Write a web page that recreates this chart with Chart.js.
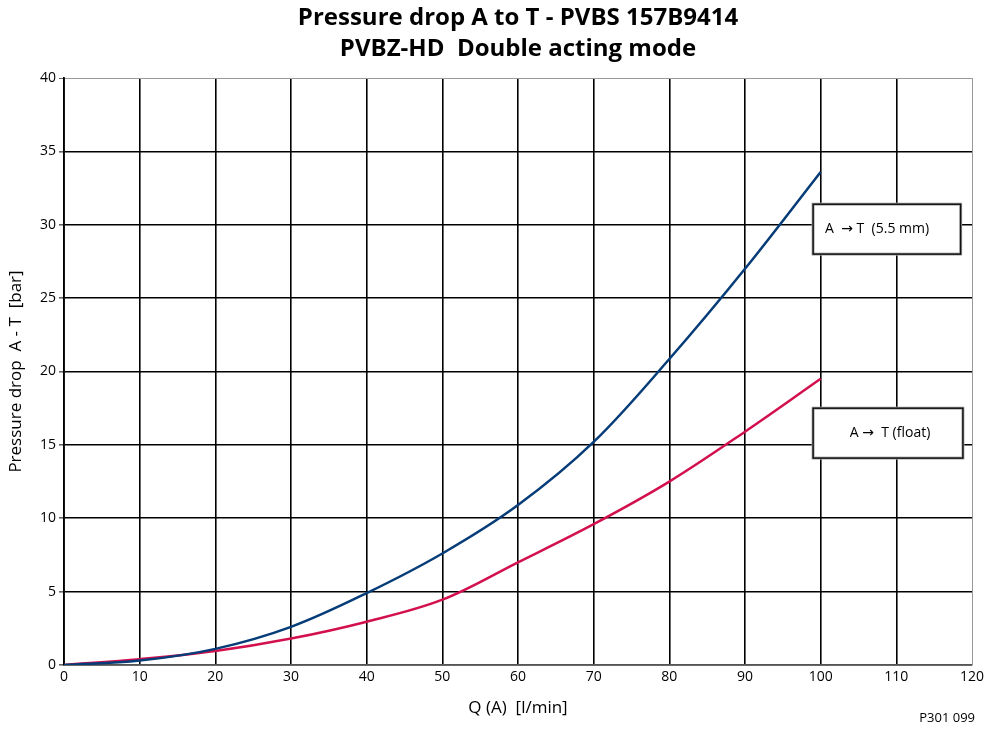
<!DOCTYPE html>
<html>
<head>
  <title>Pressure drop A to T</title>
  <script src="https://cdn.jsdelivr.net/npm/chart.js"></script>
  <style>
    html, body { margin: 0; padding: 0; background: #fff; }
    .chart-container { width: 990px; height: 732px; }
  </style>
</head>
<body>
  <div class="chart-container">
    <canvas id="chartPressure"></canvas>
  </div>
  <script>
    const titleLines = ['Pressure drop A to T - PVBS 157B9414', 'PVBZ-HD  Double acting mode'];
    const flow = [0, 10, 20, 30, 40, 50, 60, 70, 80, 90, 100];
    const dropOrifice = [0, 0.3, 1.1, 2.6, 4.9, 7.6, 10.9, 15.2, 20.85, 27.0, 33.6];
    const flowFloat = [0, 10, 20, 30, 40, 50, 60, 70, 80, 90, 100];
    const dropFloat = [0, 0.4, 0.95, 1.8, 2.95, 4.45, 7.0, 9.6, 12.5, 15.9, 19.5];
    const seriesLabels = ['A  \u2192 T  (5.5 mm)', 'A \u2192  T (float)'];
    const figureCode = 'P301 099';

    const FONT = '"Open Sans", "Noto Sans", sans-serif';
    const BOX_FONT = '"Open Sans", "DejaVu Sans", sans-serif';

    const toPoints = (xs, ys) => xs.map((x, i) => ({ x: x, y: ys[i] }));

    const overlay = {
      id: 'overlay',
      afterDraw(chart) {
        const ctx = chart.ctx;
        const area = chart.chartArea;
        const sx = chart.scales.x, sy = chart.scales.y;
        ctx.save();
        // title
        ctx.fillStyle = '#000';
        ctx.font = 'bold 24px ' + FONT;
        ctx.textAlign = 'center';
        ctx.textBaseline = 'middle';
        const cx = (area.left + area.right) / 2;
        ctx.fillText(titleLines[0], cx, 18);
        ctx.fillText(titleLines[1], cx, 49);

        // label boxes
        const boxes = [
          { text: seriesLabels[0], x0: 99, x1: 118.5, yTop: 31.4, yBot: 28.0, align: 'left' },
          { text: seriesLabels[1], x0: 99, x1: 118.8, yTop: 17.5, yBot: 14.1, align: 'center' }
        ];
        boxes.forEach(b => {
          const l = sx.getPixelForValue(b.x0), r = sx.getPixelForValue(b.x1);
          const t = sy.getPixelForValue(b.yTop), bo = sy.getPixelForValue(b.yBot);
          ctx.fillStyle = '#fff';
          ctx.fillRect(l, t, r - l, bo - t);
          ctx.strokeStyle = '#aaa';
          ctx.lineWidth = 3;
          ctx.strokeRect(l, t, r - l, bo - t);
          ctx.strokeStyle = '#111';
          ctx.lineWidth = 1.5;
          ctx.strokeRect(l, t, r - l, bo - t);
          ctx.fillStyle = '#000';
          ctx.font = '14px ' + BOX_FONT;
          ctx.textBaseline = 'middle';
          if (b.align === 'left') {
            ctx.textAlign = 'left';
            ctx.fillText(b.text, l + 12, (t + bo) / 2);
          } else {
            ctx.textAlign = 'center';
            ctx.fillText(b.text, (l + r) / 2 + 2, (t + bo) / 2);
          }
        });

        // figure code
        ctx.font = '13px ' + FONT;
        ctx.textAlign = 'right';
        ctx.fillText(figureCode, area.right + 3, 718);
        ctx.restore();
      }
    };

    const gridColor = ctx => ctx.index === ctx.chart.scales[ctx.scale.id].ticks.length - 1 ? '#999' : '#000';
    const gridWidth = ctx => ctx.index === ctx.chart.scales[ctx.scale.id].ticks.length - 1 ? 1 : 1.6;

    new Chart(document.getElementById('chartPressure').getContext('2d'), {
      type: 'line',
      data: {
        datasets: [{
          label: seriesLabels[0],
          data: toPoints(flow, dropOrifice),
          borderColor: '#063c78',
          borderWidth: 2.5,
          pointRadius: 0,
          tension: 0.35,
          fill: false
        }, {
          label: seriesLabels[1],
          data: toPoints(flowFloat, dropFloat),
          borderColor: '#d3104e',
          borderWidth: 2.5,
          pointRadius: 0,
          tension: 0.35,
          fill: false
        }]
      },
      options: {
        responsive: true,
        maintainAspectRatio: false,
        animation: false,
        layout: { padding: { top: 78, right: 18, left: 0, bottom: 0 } },
        plugins: {
          legend: { display: false },
          title: { display: false },
          tooltip: { enabled: false }
        },
        scales: {
          x: {
            type: 'linear',
            min: 0,
            max: 120,
            ticks: { stepSize: 10, color: '#000', font: { family: FONT, size: 14 }, padding: 4 },
            grid: { color: gridColor, lineWidth: gridWidth, drawTicks: false },
            border: { color: '#555', width: 1.5 },
            title: { display: true, text: 'Q (A)  [l/min]', color: '#000', font: { family: FONT, size: 17 }, padding: { top: 2, bottom: 14 } },
            afterFit: s => { s.height = 67; }
          },
          y: {
            min: 0,
            max: 40,
            ticks: { stepSize: 5, color: '#000', font: { family: FONT, size: 14 }, padding: 3 },
            grid: { color: gridColor, lineWidth: gridWidth, tickColor: '#666', tickLength: 5 },
            border: { color: '#000', width: 1.8 },
            title: { display: true, text: 'Pressure drop  A - T  [bar]', color: '#000', font: { family: FONT, size: 17 }, padding: { top: 6, bottom: 0 } },
            afterFit: s => { s.width = 64; }
          }
        }
      },
      plugins: [overlay]
    });
  </script>
</body>
</html>
